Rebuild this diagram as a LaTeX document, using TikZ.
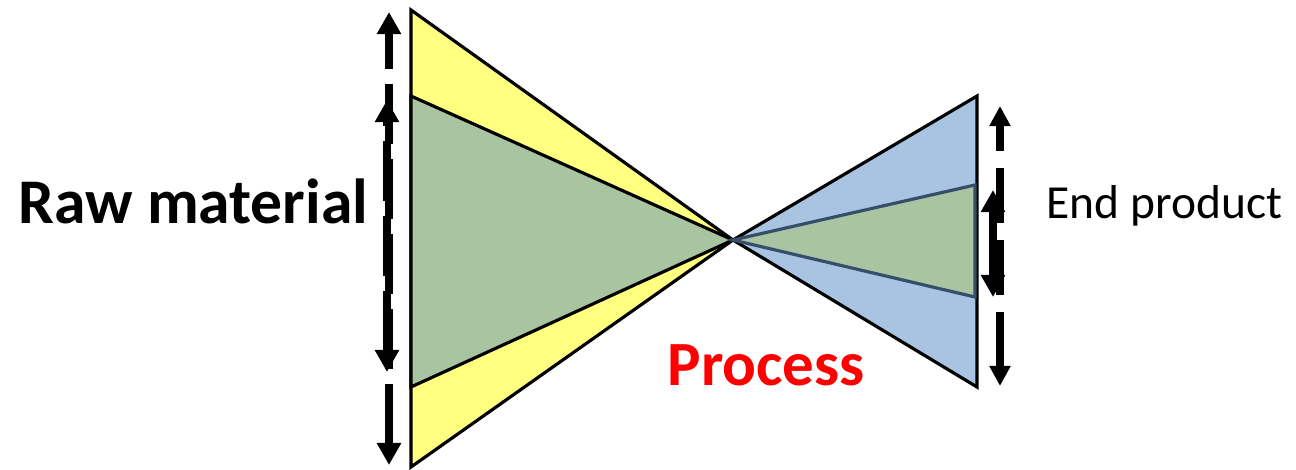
\documentclass[tikz,border=0pt]{standalone}
\usepackage{fontspec}
\setmainfont{Carlito}
\usetikzlibrary{arrows.meta,positioning}
\definecolor{rawyellow}{RGB}{255,255,128}
\definecolor{rawgreen}{RGB}{169,196,161}
\definecolor{endblue}{RGB}{168,196,224}
\definecolor{edgeblue}{RGB}{52,78,108}
\definecolor{procred}{RGB}{255,0,0}

\begin{document}
\begin{tikzpicture}[
		x=0.01cm, y=-0.01cm,
		cone/.style={draw=black, line width=0.9pt, line join=miter},
		flow/.style={line width=2pt, dash pattern=on 0.55cm off 0.17cm,
			{Triangle[length=0.2cm,width=0.2cm]}-{Triangle[length=0.2cm,width=0.2cm]}},
		flowwide/.style={line width=2.2pt, dash pattern=on 0.6cm off 0.15cm,
			{Triangle[length=0.22cm,width=0.23cm]}-{Triangle[length=0.22cm,width=0.23cm]}},
		flowin/.style={line width=2pt,
			{Triangle[length=0.22cm,width=0.23cm]}-{Triangle[length=0.22cm,width=0.23cm]}},
		every node/.style={inner sep=0pt, font=\fontsize{17.5}{20}\selectfont}
		]
		\useasboundingbox (0,0) rectangle (1296,469);
		
		% cone corners
		\coordinate (P) at (733,240);
		\coordinate (RawTop) at (411,10);
		\coordinate (RawBot) at (411,467);
		\coordinate (RawInTop) at (411,96);
		\coordinate (RawInBot) at (411,387);
		\coordinate (EndTop) at (977,96);
		\coordinate (EndBot) at (977,387);
		\coordinate (EndInTop) at (975,185);
		\coordinate (EndInBot) at (975,297);
		
		\filldraw[cone, fill=rawyellow] (RawTop) -- (P) -- (RawBot) -- cycle;
		\filldraw[cone, fill=rawgreen] (RawInTop) -- (P) -- (RawInBot) -- cycle;
		\filldraw[cone, fill=endblue] (P) -- (EndTop) -- (EndBot) -- cycle;
		\filldraw[draw=edgeblue, line width=0.9pt, fill=rawgreen] (P) -- (EndInTop) -- (EndInBot) -- cycle;
		
		% arrow ends
		\coordinate (LA) at (389,12);
		\coordinate (LB) at (389,465);
		\coordinate (LC) at (387,100);
		\coordinate (LD) at (387,372);
		\coordinate (RA) at (1000,106);
		\coordinate (RB) at (1000,386);
		\coordinate (RC) at (993,190);
		\coordinate (RD) at (993,297);
		
		\draw[flowwide] (LB) -- (LA);
		\draw[flowwide] (LD) -- (LC);
		\draw[flow] (RB) -- (RA);
		\draw[flowin] (RD) -- (RC);
		
		\node (raw) [anchor=base east, font=\fontsize{18.1}{20}\selectfont\bfseries] at (369,223) {Raw material};
		\node (end) [anchor=base west, font=\fontsize{13.5}{16}\selectfont] at (1046,218) {End product};
		\node (proc) [anchor=base west, text=procred, font=\fontsize{17.9}{20}\selectfont\bfseries] at (667,385) {Process};
		
	\end{tikzpicture}
\end{document}
